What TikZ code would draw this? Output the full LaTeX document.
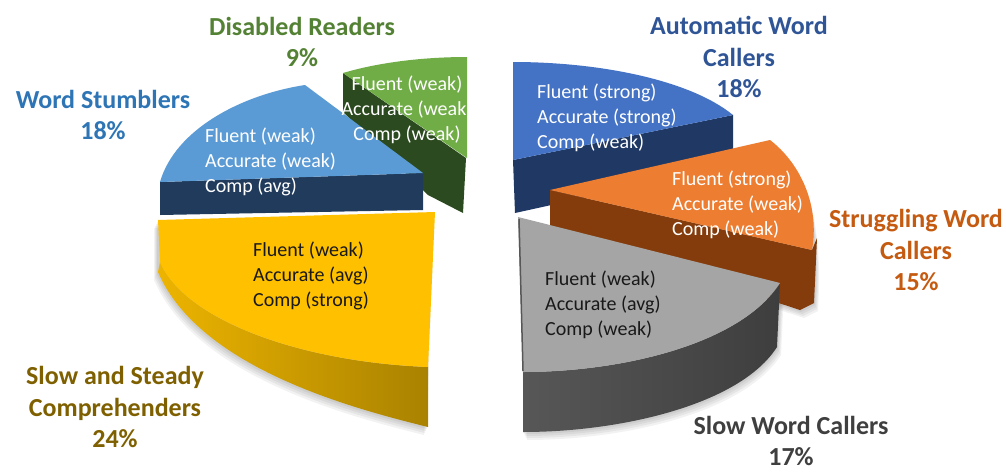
\documentclass[tikz,border=0pt]{standalone}
\usepackage{fontspec}
\setmainfont{Carlito}
\definecolor{cyel}{HTML}{FFC000}
\definecolor{cyelL}{HTML}{EDB400}
\definecolor{cyelD}{HTML}{A98200}
\definecolor{cblu}{HTML}{5B9BD5}
\definecolor{cbluD}{HTML}{203B5C}
\definecolor{cgrn}{HTML}{70AD47}
\definecolor{cgrnD}{HTML}{2C4A1F}
\definecolor{cnav}{HTML}{4472C4}
\definecolor{cnavD}{HTML}{1F3864}
\definecolor{corg}{HTML}{ED7D31}
\definecolor{corgD}{HTML}{843C0C}
\definecolor{cgry}{HTML}{A5A5A5}
\definecolor{cgryL}{HTML}{575757}
\definecolor{cgryD}{HTML}{3E3E3E}
\definecolor{lgrn}{HTML}{548235}
\definecolor{lblu}{HTML}{2E75B6}
\definecolor{lnav}{HTML}{2F5597}
\definecolor{lorg}{HTML}{C55A11}
\definecolor{lgry}{HTML}{3F3F3F}
\definecolor{lyel}{HTML}{7F6000}
\begin{document}
\begin{tikzpicture}[x=1pt,y=-1pt,
  inner/.style={font=\fontsize{20}{25}\selectfont, align=left, anchor=west, inner sep=0pt},
  lab/.style={font=\fontsize{26}{31.5}\selectfont\bfseries, align=center, inner sep=0pt},
  shad/.style={fill=black, opacity=0.05}]
\useasboundingbox (0,0) rectangle (1006,472);
\fill[white] (0,0) rectangle (1006,472);

% soft shadows
\foreach \d in {2,4,6,8}{
  \fill[shad, shift={(-0.5*\d,\d)}]
    (435,212) -- (428,427) .. controls (360,410) and (200,370) .. (158,272) -- (158,220) -- cycle;
  \fill[shad, shift={(0.5*\d,\d)}]
    (518,217) -- (780,283) -- (777,347) .. controls (740,405) and (620,432) .. (523,432) -- cycle;
  \fill[shad, shift={(0.5*\d,\d)}]
    (550,190) -- (770,140) .. controls (800,163) and (820,205) .. (814,303) -- (800,310) -- (550,228) -- cycle;
}

% Yellow slice
\shade[left color=cyelL, right color=cyelD]
  (428,367) .. controls (300,362) and (185,320) .. (160,262)
  -- (158,272) .. controls (200,370) and (360,410) .. (428,427) -- cycle;
\fill[cyel] (158,220) -- (435,212) -- (428,367)
  .. controls (300,362) and (185,320) .. (160,262) -- cycle;

% Green slice
\fill[cgrnD] (343,73) -- (466,158) -- (463,213) -- (428,195) -- (343,112) -- cycle;
\fill[cgrn] (343,73) .. controls (380,62) and (425,57) .. (467,57) -- (467,158) -- cycle;

% Light blue slice
\fill[cbluD] (160,182) -- (423,173) -- (423,210) -- (160,215) -- cycle;
\fill[cblu] (160,182) .. controls (175,130) and (240,95) .. (305,85) -- (423,173) -- cycle;

% Dark blue slice
\fill[cnavD] (513,160) -- (733,115) -- (733,165) -- (515,213) -- cycle;
\fill[cnav] (513,62) .. controls (600,62) and (690,80) .. (733,115) -- (513,160) -- cycle;

% Orange slice
\fill[corgD] (550,190) -- (812,250) -- (817,238) -- (814,303) -- (800,310) -- (550,228) -- cycle;
\fill[corg] (550,190) -- (770,140) .. controls (800,163) and (820,205) .. (812,250) -- cycle;

% Gray slice
\shade[left color=cgryL, right color=cgryD]
  (780,283) .. controls (740,345) and (620,372) .. (523,372)
  -- (523,432) .. controls (620,432) and (740,405) .. (777,347) -- cycle;
\fill[cgry] (518,217) -- (780,283) .. controls (740,345) and (620,372) .. (523,372) -- cycle;
\draw[cgryL, line width=1.5pt] (519,219) -- (523,371);

% Inner texts
\node[inner, text=white] (tblu) at (205,162) {Fluent (weak)\\Accurate (weak)\\Comp (avg)};
\node[inner, text=white, align=center, anchor=center] (tgrn) at (407,110) {Fluent (weak)\\Accurate (weak)\\Comp (weak)};
\node[inner, text=white] (tnav) at (537,118) {Fluent (strong)\\Accurate (strong)\\Comp (weak)};
\node[inner, text=white] (torg) at (672,205) {Fluent (strong)\\Accurate (weak)\\Comp (weak)};
\node[inner, text=black!90] (tgry) at (545,305) {Fluent (weak)\\Accurate (avg)\\Comp (weak)};
\node[inner, text=black!90] (tyel) at (253,276) {Fluent (weak)\\Accurate (avg)\\Comp (strong)};

% Labels
\node[lab, text=lgrn] (ldis) at (302,42) {Disabled Readers\\9\%};
\node[lab, text=lblu] (lws) at (103,115) {Word Stumblers\\18\%};
\node[lab, text=lnav] (lawc) at (739,57) {Automatic Word\\Callers\\18\%};
\node[lab, text=lorg] (lswc) at (916,250) {Struggling Word\\Callers\\15\%};
\node[lab, text=lgry] (lslw) at (791,441) {Slow Word Callers\\17\%};
\node[lab, text=lyel] (lssc) at (115,407) {Slow and Steady\\Comprehenders\\24\%};
\end{tikzpicture}
\end{document}
